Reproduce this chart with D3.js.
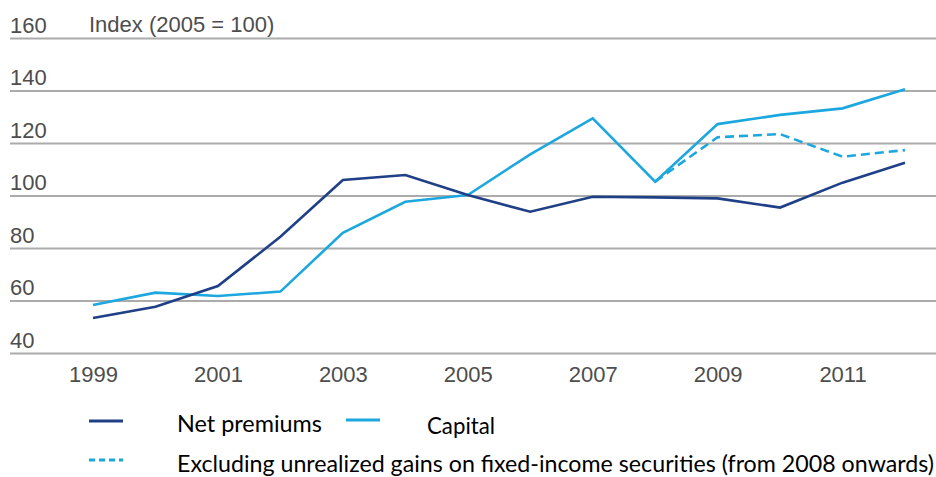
<!DOCTYPE html>
<html>
<head>
<meta charset="utf-8">
<script src="https://cdn.jsdelivr.net/npm/d3@7/dist/d3.min.js"></script>
<style>
  html, body { margin: 0; padding: 0; background: #fff; }
  svg { display: block; }
</style>
</head>
<body>
<svg id="chart" width="936" height="477"></svg>
<script>
// Index values (2005 = 100)
const years = [1999, 2000, 2001, 2002, 2003, 2004, 2005, 2006, 2007, 2008, 2009, 2010, 2011, 2012];
const netPremiums = [53.3, 57.6, 65.5, 84.3, 105.9, 107.8, 100.2, 93.8, 99.5, 99.3, 98.9, 95.4, 104.9, 112.5];
const capital = [58.3, 63.0, 61.7, 63.4, 85.8, 97.6, 100.2, 115.7, 129.4, 105.3, 127.2, 130.7, 133.2, 140.5];
const exclYears = [2008, 2009, 2010, 2011, 2012];
const capitalExclUnrealized = [105.3, 122.2, 123.4, 114.8, 117.3];
const yTicks = [40, 60, 80, 100, 120, 140, 160];
const xTicks = [1999, 2001, 2003, 2005, 2007, 2009, 2011];
const axisTitle = "Index (2005 = 100)";
const legendLabels = ["Net premiums", "Capital", "Excluding unrealized gains on fixed-income securities (from 2008 onwards)"];

const navy = "#1f3f87";
const cyan = "#1ca7de";
const gridColor = "#ababab";
const labelColor = "#4d4d4d";
const axisFont = "'Liberation Sans', Arial, sans-serif";

const svg = d3.select("#chart");

const x = d3.scaleLinear().domain([1999, 2012]).range([93, 905]);
const y = d3.scaleLinear().domain([40, 160]).range([353, 38]);

// Horizontal gridlines with labels sitting above each line
const yAxis = svg.append("g")
  .attr("transform", "translate(10,0)")
  .call(d3.axisRight(y).tickValues(yTicks).tickSize(926).tickFormat(d3.format("d")));
yAxis.select(".domain").remove();
yAxis.selectAll(".tick line")
  .attr("stroke", gridColor)
  .attr("stroke-width", 2);
yAxis.selectAll(".tick text")
  .attr("x", 0)
  .attr("dy", -6)
  .attr("text-anchor", "start")
  .attr("fill", labelColor)
  .style("font-family", axisFont)
  .style("font-size", "22px");

// Axis title next to the top label
svg.append("text")
  .attr("x", 89)
  .attr("y", y(160) - 6)
  .attr("fill", labelColor)
  .style("font-family", axisFont)
  .style("font-size", "22px")
  .text(axisTitle);

// Year labels
const xAxis = svg.append("g")
  .attr("transform", `translate(0,${y(40)})`)
  .call(d3.axisBottom(x).tickValues(xTicks).tickSize(0).tickPadding(0).tickFormat(d3.format("d")));
xAxis.select(".domain").remove();
xAxis.selectAll(".tick text")
  .attr("y", 29)
  .attr("dy", 0)
  .attr("fill", labelColor)
  .style("font-family", axisFont)
  .style("font-size", "22px");

const line = d3.line()
  .x(d => x(d[0]))
  .y(d => y(d[1]));

const series = [
  { pts: d3.zip(years, capital), color: cyan, dash: null },
  { pts: d3.zip(exclYears, capitalExclUnrealized), color: cyan, dash: "9,5" },
  { pts: d3.zip(years, netPremiums), color: navy, dash: null }
];

svg.append("g").selectAll("path")
  .data(series)
  .join("path")
  .attr("d", d => line(d.pts))
  .attr("fill", "none")
  .attr("stroke", d => d.color)
  .attr("stroke-width", 2.6)
  .attr("stroke-linejoin", "miter")
  .attr("stroke-dasharray", d => d.dash);

// Legend
const legendFont = "Lato, 'Open Sans', sans-serif";
const legendItems = [
  { label: legendLabels[0], color: navy, dash: null, sx: 89, sy: 421, tx: 177, ty: 432, w: 145 },
  { label: legendLabels[1], color: cyan, dash: null, sx: 346, sy: 420, tx: 427, ty: 434, w: 68 },
  { label: legendLabels[2], color: cyan, dash: "6,4", sx: 89, sy: 460, tx: 177, ty: 472, w: 757 }
];
const lg = svg.append("g");
lg.selectAll("line")
  .data(legendItems)
  .join("line")
  .attr("x1", d => d.sx)
  .attr("x2", d => d.sx + 34)
  .attr("y1", d => d.sy)
  .attr("y2", d => d.sy)
  .attr("stroke", d => d.color)
  .attr("stroke-width", 3)
  .attr("stroke-dasharray", d => d.dash);
lg.selectAll("text")
  .data(legendItems)
  .join("text")
  .attr("x", d => d.tx)
  .attr("y", d => d.ty)
  .attr("fill", "#000")
  .attr("textLength", d => d.w)
  .attr("lengthAdjust", "spacingAndGlyphs")
  .style("font-family", legendFont)
  .style("font-size", "23px")
  .text(d => d.label);
</script>
</body>
</html>
